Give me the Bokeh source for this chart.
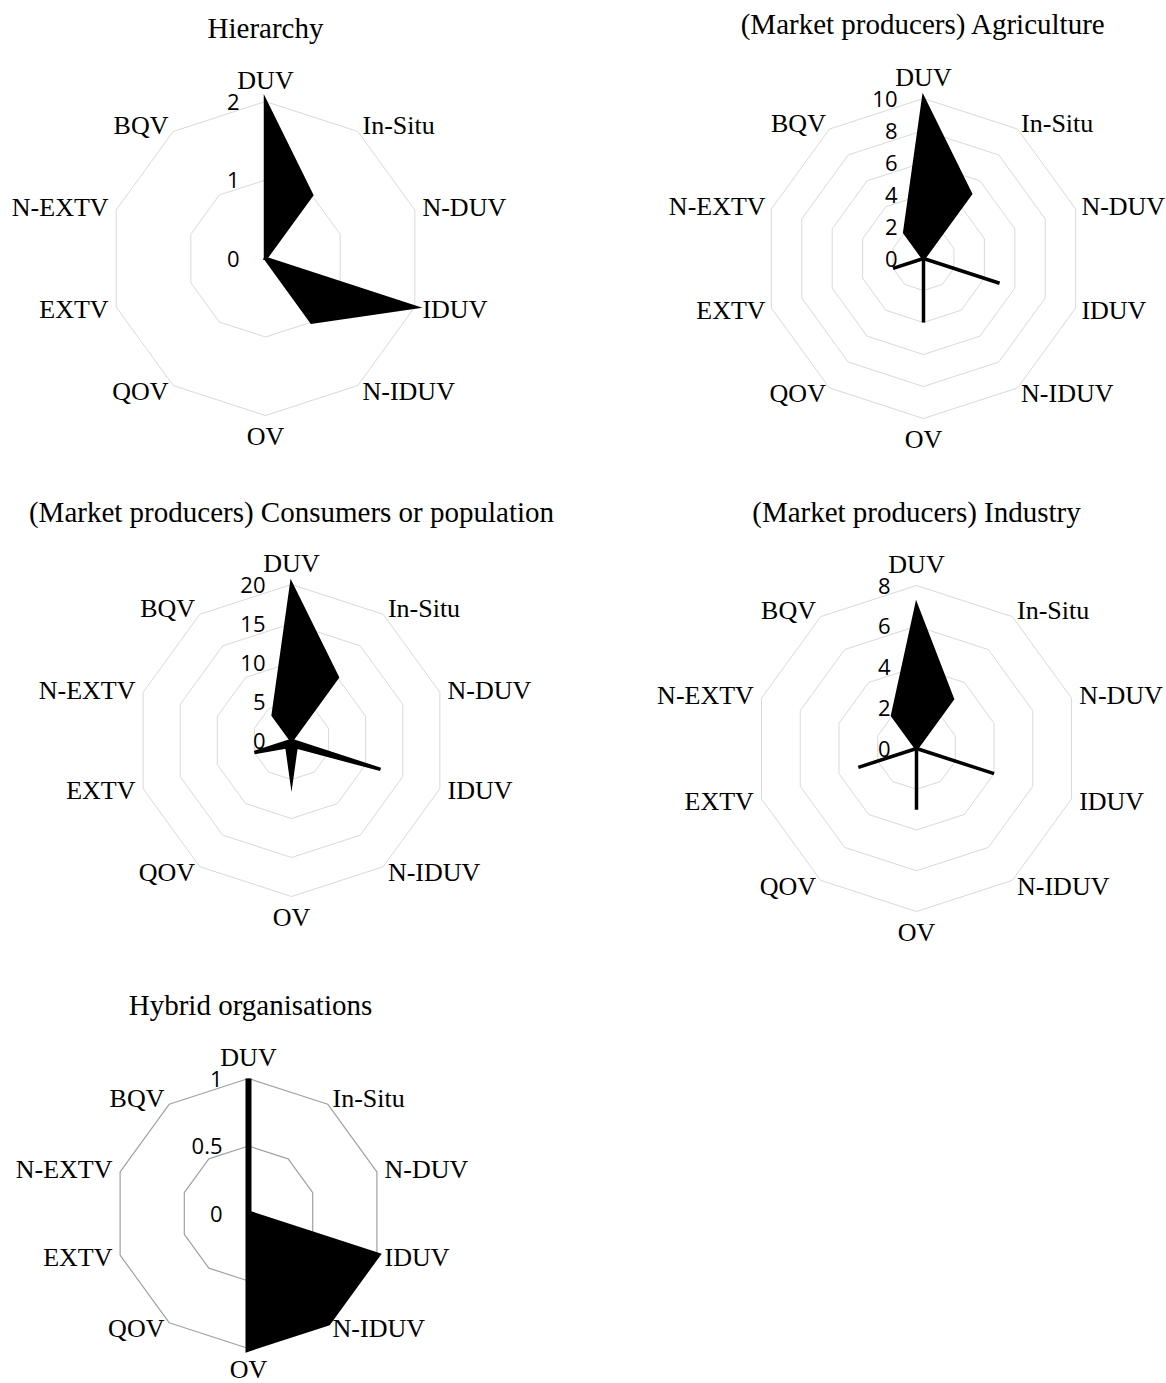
import math
from bokeh.plotting import figure
from bokeh.layouts import column, row
from bokeh.models import ColumnDataSource, Range1d
from bokeh.core.properties import value, field
from bokeh.embed import file_html
from bokeh.resources import INLINE

# ---------------- data ----------------
categories = ["DUV", "In-Situ", "N-DUV", "IDUV", "N-IDUV", "OV", "QOV", "EXTV", "N-EXTV", "BQV"]

titles = ["Hierarchy",
          "(Market producers) Agriculture",
          "(Market producers) Consumers or population",
          "(Market producers) Industry",
          "Hybrid organisations"]

hierarchy = [2, 1, 0, 2, 1, 0, 0, 0, 0, 0]
agriculture = [10, 5, 0, 5, 0, 4, 0, 2, 0, 2]
consumers = [20, 10, 0, 12, 1, 5, 1, 5, 0, 4]
industry = [7, 3, 0, 4, 0, 3, 0, 3, 0, 2]
hybrid = [1, 0, 0, 1, 1, 1, 0, 0, 0, 0]

ticks_hierarchy = [0, 1, 2]
ticks_agriculture = [0, 2, 4, 6, 8, 10]
ticks_consumers = [0, 5, 10, 15, 20]
ticks_industry = [0, 2, 4, 6, 8]
ticks_hybrid = [0, 0.5, 1]
tick_labels_hybrid = ["0", "0.5", "1"]

# ---------------- layout / style ----------------
LABEL_FONT = "Liberation Serif"
TICK_FONT = "Open Sans"


def fmt(t):
    return str(int(t)) if float(t).is_integer() else str(t)


def make_radar(vals, title, ticks, W, H, cx, cy, R, title_y, title_dx,
               lw, grid_color, grid_w, tick_labels=None, side_off=8):
    vmax = ticks[-1]
    s = R / vmax  # px per unit
    p = figure(width=W, height=H,
               x_range=Range1d(-cx / s, (W - cx) / s),
               y_range=Range1d(-(H - cy) / s, cy / s),
               output_backend="svg", toolbar_location=None,
               x_axis_type=None, y_axis_type=None, min_border=0)
    p.grid.visible = False
    p.outline_line_color = None
    p.background_fill_color = "white"
    p.border_fill_color = "white"

    n = len(categories)
    ang = [2 * math.pi * i / n for i in range(n)]

    # grid rings
    rxs, rys = [], []
    for t in ticks:
        if t == 0:
            continue
        rxs.append([t * math.sin(a) for a in ang] + [0.0])
        rys.append([t * math.cos(a) for a in ang] + [t])
    p.multi_line(rxs, rys, line_color=grid_color, line_width=grid_w)

    # data polygon
    px = [v * math.sin(a) for v, a in zip(vals, ang)]
    py = [v * math.cos(a) for v, a in zip(vals, ang)]
    p.patch(px, py, fill_color="black", line_color="black",
            line_width=lw, line_join="miter")

    # tick labels
    tl = tick_labels if tick_labels is not None else [fmt(t) for t in ticks]
    p.text(x=[-26 / s] * len(ticks), y=ticks, text=tl,
           text_font=value(TICK_FONT), text_font_size="22px",
           text_align="right", text_baseline="middle", text_color="black")

    # category labels
    lx, ly, al = [], [], []
    for a in ang:
        vx, vy = vmax * math.sin(a), vmax * math.cos(a)
        sa = math.sin(a)
        if abs(sa) < 1e-9:
            off = 21 if math.cos(a) > 0 else -21
            lx.append(vx)
            ly.append(vy + off / s)
            al.append("center")
        else:
            lx.append(vx + side_off / s * sa)
            ly.append(vy + 7 / s * math.cos(a))
            al.append("left" if sa > 0 else "right")
    src = ColumnDataSource(dict(x=lx, y=ly, text=categories, align=al))
    p.text(x="x", y="y", text="text", source=src,
           text_font=value(LABEL_FONT), text_font_size="26px",
           text_align=field("align"), text_baseline="middle", text_color="black")

    # title
    p.text(x=[title_dx / s], y=[(cy - title_y) / s], text=[title],
           text_font=value(LABEL_FONT), text_font_size="29px",
           text_align="center", text_baseline="middle", text_color="black")
    return p


WL, WR = 583, 583
H1, H2, H3 = 478, 490, 415

f1 = make_radar(hierarchy, titles[0], ticks_hierarchy, WL, H1, 265, 258, 157, 27, 0,
                3.5, "#d9d9d9", 1)
f2 = make_radar(agriculture, titles[1], ticks_agriculture, WR, H1, 340, 258, 160, 23, 0,
                3.5, "#d9d9d9", 1, side_off=6)
f3 = make_radar(consumers, titles[2], ticks_consumers, WL, H2, 291, 262, 156, 33, 0,
                3.5, "#d9d9d9", 1)
f4 = make_radar(industry, titles[3], ticks_industry, WR, H2, 333, 270, 163, 33, 0,
                3.5, "#d9d9d9", 1)
f5 = make_radar(hybrid, titles[4], ticks_hybrid, WL, H3, 248, 245, 135, 36, 2,
                6, "#a0a0a0", 1.2, tick_labels=tick_labels_hybrid)

layout = column(row(f1, f2), row(f3, f4), row(f5))

open("out.html", "w").write(file_html(layout, INLINE))
